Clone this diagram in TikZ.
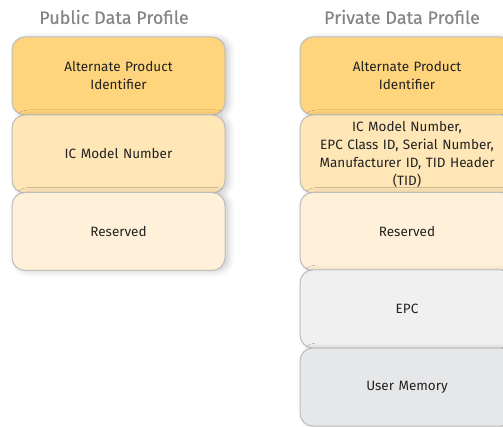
\documentclass[tikz,border=0pt]{standalone}
\usepackage{fontspec}
\setmainfont{Fira Sans}
\newfontfamily\titlefont[FakeBold=0.5]{Fira Sans}
\usetikzlibrary{shadows.blur}
\definecolor{TitleClr}{HTML}{858585}
\definecolor{TextClr}{HTML}{222222}
\definecolor{EdgeClr}{HTML}{BDBDBD}
\definecolor{AltClr}{HTML}{FED47C}
\definecolor{ModelClr}{HTML}{FEE6B7}
\definecolor{ResClr}{HTML}{FFF1D9}
\definecolor{EpcClr}{HTML}{F0F0F0}
\definecolor{UserClr}{HTML}{E6E7E9}

\begin{document}
\begin{tikzpicture}[x=1pt,y=-1pt,
  block/.style={draw=EdgeClr,line width=1pt,rounded corners=13pt,
    minimum height=78pt,align=center,text=TextClr,font=\fontsize{13.5}{18}\selectfont,
    blur shadow={shadow xshift=4pt,shadow yshift=-1pt,shadow blur radius=6pt,shadow opacity=20}},
  pubblock/.style={block,minimum width=213pt,text width=195pt},
  privblock/.style={block,minimum width=214pt,text width=205pt},
  title/.style={text=TitleClr,font=\titlefont\fontsize{18}{20}\selectfont}]
\useasboundingbox (0,0) rectangle (503,427);

% column titles
\node[title] (pubtitle) at (114,17) {Public Data Profile};
\node[title] (privtitle) at (402,17) {Private Data Profile};

% public data profile
\node[pubblock,fill=AltClr] (pubalt) at (118.5,76) {Alternate Product\\Identifier};
\node[pubblock,fill=ModelClr] (pubmodel) at (118.5,154) {IC Model Number};
\node[pubblock,fill=ResClr] (pubres) at (118.5,231.5) {Reserved};

% private data profile
\node[privblock,fill=AltClr] (privalt) at (407,76) {Alternate Product\\Identifier};
\node[privblock,fill=ModelClr] (privmodel) at (407,154)
  {IC Model Number,\\EPC Class ID, Serial Number,\\Manufacturer ID, TID Header\\(TID)};
\node[privblock,fill=ResClr] (privres) at (407,231.5) {Reserved};
\node[privblock,fill=EpcClr] (privepc) at (407,309) {EPC};
\node[privblock,fill=UserClr] (privuser) at (407,387) {User Memory};

\end{tikzpicture}
\end{document}
